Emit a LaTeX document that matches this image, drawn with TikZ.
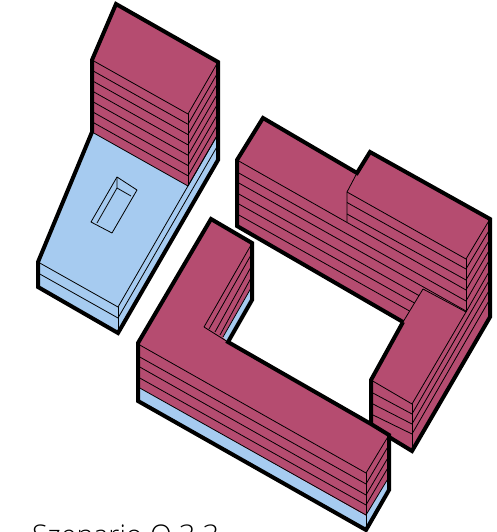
\documentclass[tikz,border=0pt]{standalone}
\usepackage{fontspec}
\setmainfont{Open Sans Light}[BoldFont={Open Sans}]
\definecolor{roof}{HTML}{B54C70}
\definecolor{pod}{HTML}{A6CBF0}
\tikzset{
  thin line/.style={draw=black,line width=0.8pt,line join=round},
  heavy/.style={draw=black,line width=4pt,line join=miter,miter limit=6},
  fp/.style={fill=roof,draw=none},
  fb/.style={fill=pod,draw=none},
}
\begin{document}
\begin{tikzpicture}[x=1pt,y=-1pt]
\useasboundingbox (0,0) rectangle (497,532);
% ---------- Building A
\fill[fb] (92,132) -- (188,186) -- (218,134) -- (218,160) -- (118,333) -- (38,287) -- (38,262) -- cycle;
\fill[fp] (116,4) -- (218,62) -- (218,134) -- (188,186) -- (92,132) -- (92,60) -- cycle;
\foreach \i in {0,...,6}{
  \draw[thin line] (92,{60+\i*10.3}) -- (188,{114+\i*10.3}) -- (218,{62+\i*10.3});
}
\draw[thin line] (188,114) -- (188,186);
\draw[thin line] (92,132) -- (188,186) -- (218,134);
\draw[thin line] (38,262) -- (118,307) -- (218,134);
\draw[thin line] (38,273) -- (118,318) -- (218,145);
\draw[thin line] (118,307) -- (118,333);
\draw[thin line] (117,177) -- (137,190) -- (112,233) -- (91,222) -- cycle;
\draw[thin line] (117,177) -- (117,188) -- (131,196);
\draw[thin line] (117,188) -- (97,223);
\draw[heavy] (92,132) -- (92,60) -- (116,4) -- (218,62) -- (218,160) -- (118,333) -- (38,287) -- (38,262) -- cycle;
% ---------- Building B
\fill[fp] (263,118) -- (357,173) -- (370,152) -- (490,219) -- (490,317) -- (412,451) -- (371,425) -- (371,380) -- (403,322) -- (237,226) -- (237,160) -- cycle;
\draw[thin line] (357,173) -- (347,192) -- (347,222);
\draw[thin line] (237,160) -- (466,290) -- (490,249);
\draw[thin line] (347,192) -- (466,259) -- (490,219);
\draw[thin line] (347,202.5) -- (466,269) -- (490,229);
\draw[thin line] (347,214) -- (466,280) -- (490,239);
\draw[thin line] (237,172) -- (466,301) -- (490,259);
\draw[thin line] (237,182) -- (466,311);
\draw[thin line] (237,193) -- (419,295.6);
\draw[thin line] (237,203) -- (414.5,303);
\draw[thin line] (237,214) -- (409.5,311);
\draw[thin line] (466,259) -- (466,312);
\draw[thin line] (403,322) -- (423,289) -- (466,312) -- (412,404) -- (371,380);
\draw[thin line] (371,392) -- (412,414) -- (490,279);
\draw[thin line] (371,403) -- (412,424) -- (490,289);
\draw[thin line] (371,414) -- (412,434) -- (490,299);
\draw[thin line] (466,312) -- (490,270);
\draw[thin line] (412,404) -- (412,451);
\draw[heavy] (403,322) -- (237,226) -- (237,160) -- (263,118) -- (357,173) -- (370,152) -- (490,219) -- (490,317) -- (412,451) -- (389,437);
\draw[heavy] (403,322) -- (371,380) -- (371,425);
% ---------- Building C
\fill[fp] (211,219) -- (252,243) -- (252,287) -- (223,337) -- (228,342) -- (371,423) -- (389,435) -- (389,477) -- (366,516) -- (138,387) -- (138,343) -- cycle;
\fill[fb] (223,337) -- (251,288) -- (251,300) -- (228,342) -- cycle;
\fill[fb] (138,387) -- (366,516) -- (389,477) -- (389,490) -- (366,530) -- (138,401) -- cycle;
\draw[thin line] (204,327) -- (251,245);
\draw[thin line] (209,329) -- (251,255);
\draw[thin line] (215,332) -- (251,267);
\draw[thin line] (220,335) -- (251,278);
\draw[thin line] (223,337) -- (251,288);
\draw[thin line] (204,327) -- (228,342);
\draw[thin line] (138,344) -- (366,473) -- (389,435);
\draw[thin line] (138,356) -- (366,484) -- (389,445);
\draw[thin line] (138,366) -- (366,495) -- (389,456);
\draw[thin line] (138,377) -- (366,505) -- (389,466);
\draw[thin line] (138,387) -- (366,515) -- (389,477);
\draw[thin line] (366,473) -- (366,530);
\draw[heavy] (228,342) -- (252,300) -- (252,243) -- (211,219) -- (138,343) -- (138,401) -- (366,530) -- (389,490) -- (389,435) -- (371,424) -- cycle;
% ---------- caption
\node[anchor=base west,inner sep=0pt,font=\fontsize{28.5}{29}\selectfont] (cap) at (32,545.5) {Szenario O 3 3};
\end{tikzpicture}
\end{document}
